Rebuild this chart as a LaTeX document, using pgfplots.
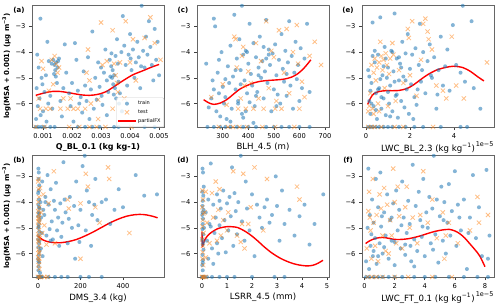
\documentclass[border=0pt]{standalone}
\usepackage{pgfplots}
\pgfplotsset{compat=1.18}
\usepackage{fontspec}
\setmainfont{DejaVu Sans}
\definecolor{mplblue}{RGB}{31,119,180}
\definecolor{mplorange}{RGB}{255,127,14}
\pgfplotsset{
  panel/.style={scale only axis, width=132pt, height=122pt, anchor=south west,
    ymin=-6.91, ymax=-2.17, ytick={-6,-5,-4,-3}, yticklabels={−6,−5,−4,−3},
    tick pos=left, tick align=outside, major tick length=3pt,
    tick style={black!75, line width=0.6pt}, axis line style={black!60, line width=0.6pt},
    tick label style={font=\fontsize{6.7}{7}\selectfont},
    xlabel style={font=\fontsize{8.6}{9}\selectfont, yshift=2pt},
    ylabel style={font=\fontsize{7}{8}\selectfont\bfseries, yshift=-2pt},
    /pgf/number format/assume math mode=true},
  tr/.style={only marks, color=mplblue, mark=*, mark size=2pt, mark options={fill=mplblue, draw=mplblue, line width=0.01pt, fill opacity=0.55, draw opacity=0}},
  te/.style={only marks, color=mplorange, mark=x, mark size=3pt, mark options={draw=mplorange, draw opacity=0.5, line width=0.8pt}},
  fx/.style={red, line width=1.4pt, smooth, no marks}
}
\begin{document}
\begin{tikzpicture}
\useasboundingbox (0,0) rectangle (500pt,306pt);
% (a)
\begin{axis}[panel, at={(32pt,179pt)}, xmin=0.62, xmax=5.17, xtick={1,2,3,4,5},
  xticklabels={0.001,0.002,0.003,0.004,0.005},
  xlabel={\bfseries Q\_BL\_0.1 (kg kg-1)}, ylabel={log(MSA + 0.001) (µg m\textsuperscript{−3})},
  xlabel style={font=\fontsize{8}{9}\selectfont},
  legend style={at={(1,0)}, anchor=south east, font=\fontsize{5}{5.5}\selectfont, draw=black!20, rounded corners=1pt, fill=white, fill opacity=0.8, text opacity=1, inner sep=1.2pt, row sep=-0.5pt},
  legend cell align=left]
\addplot[tr] coordinates {(0.91,-2.70)(0.80,-4.10)(0.85,-4.60)(0.95,-5.00)(0.78,-5.40)(0.88,-5.80)(0.82,-6.10)(1.00,-6.30)(0.76,-6.60)(0.92,-6.45)(1.05,-5.55)(1.10,-4.90)(1.15,-3.60)(1.20,-4.35)(1.30,-4.45)(1.35,-4.30)(1.40,-4.50)(1.42,-4.70)(1.45,-4.40)(1.50,-4.60)(1.38,-4.85)(1.55,-4.25)(1.48,-5.20)(1.25,-5.70)(1.18,-6.00)(1.32,-6.20)(1.60,-5.90)(1.65,-6.50)(1.70,-5.40)(1.75,-3.70)(1.80,-4.80)(1.90,-5.60)(1.95,-6.10)(2.00,-5.20)(2.10,-3.65)(2.15,-4.30)(2.20,-5.50)(2.25,-6.00)(2.30,-5.75)(2.35,-6.35)(2.40,-4.75)(2.45,-5.30)(2.50,-5.90)(2.55,-4.20)(2.60,-6.60)(2.65,-5.45)(2.70,-3.20)(2.75,-6.20)(2.80,-5.00)(2.85,-5.85)(2.90,-4.40)(2.95,-5.35)(3.00,-4.60)(3.02,-5.70)(3.05,-6.05)(3.10,-4.80)(3.15,-3.90)(3.20,-5.10)(3.25,-5.55)(3.30,-4.30)(3.35,-4.55)(3.38,-5.00)(3.40,-4.70)(3.42,-5.25)(3.45,-4.90)(3.48,-5.40)(3.50,-4.15)(3.52,-5.80)(3.55,-3.50)(3.58,-4.45)(3.60,-5.15)(3.62,-6.00)(3.65,-5.60)(3.70,-4.00)(3.75,-2.60)(3.80,-3.75)(3.85,-4.50)(3.90,-5.30)(3.95,-4.10)(4.00,-3.30)(4.05,-4.70)(4.10,-3.90)(4.15,-5.00)(4.20,-4.40)(4.25,-3.60)(4.30,-4.20)(4.35,-5.40)(4.40,-2.20)(4.45,-3.95)(4.50,-4.60)(4.55,-3.40)(4.60,-4.10)(4.65,-2.80)(4.70,-3.80)(4.75,-4.50)(4.80,-5.10)(4.85,-3.10)(4.90,-4.30)(4.95,-3.60)(5.00,-4.90)(3.72,-6.30)(3.20,-6.45)(2.05,-6.70)(1.12,-6.70)(3.32,-4.95)(3.44,-5.65)(3.36,-4.05)(1.44,-4.95)(1.52,-4.35)(0.98,-5.25)(4.02,-4.25)(4.38,-4.55)
(0.75,-6.908)(0.85,-6.908)(0.95,-6.908)(1.05,-6.908)(1.25,-6.908)(1.40,-6.908)(2.20,-6.908)(2.45,-6.908)(2.70,-6.908)(2.95,-6.908)(3.45,-6.908)(3.60,-6.908)(4.50,-6.908)(4.85,-6.908)};
\addlegendentry{train}
\addplot[te] coordinates {(0.95,-4.35)(1.00,-4.65)(1.30,-4.30)(1.40,-4.15)(1.45,-4.45)(1.50,-4.80)(1.35,-5.25)(1.55,-4.60)(1.20,-5.50)(0.85,-5.80)(0.90,-6.20)(1.10,-6.20)(1.25,-6.20)(1.60,-6.20)(1.85,-6.20)(2.05,-6.20)(2.20,-6.20)(2.45,-6.20)(1.70,-5.80)(1.95,-5.80)(2.55,-3.90)(2.50,-4.80)(2.60,-5.10)(2.65,-6.00)(2.90,-5.85)(3.00,-2.85)(3.05,-4.50)(3.20,-4.35)(3.40,-3.15)(3.45,-4.45)(3.50,-4.90)(3.55,-5.20)(3.58,-5.55)(3.65,-4.40)(3.80,-5.80)(3.85,-2.80)(4.00,-4.40)(4.10,-3.50)(4.20,-5.10)(4.50,-3.45)(4.70,-2.65)(4.85,-3.65)(5.05,-4.30)(3.40,-6.20)(2.90,-6.60)
(0.75,-6.908)(1.05,-6.908)(1.90,-6.908)(2.25,-6.908)(2.60,-6.908)(2.85,-6.908)(3.15,-6.908)(4.05,-6.908)};
\addlegendentry{test}
\addplot[fx] coordinates {(0.75,-5.68)(1.0,-5.6)(1.3,-5.53)(1.6,-5.53)(2.0,-5.6)(2.3,-5.66)(2.6,-5.68)(2.9,-5.64)(3.2,-5.52)(3.5,-5.3)(3.8,-5.08)(4.1,-4.88)(4.45,-4.72)(4.75,-4.58)(5.0,-4.48)};
\addlegendentry{partialFX}
\end{axis}
% (c)
\begin{axis}[panel, at={(197pt,179pt)}, xmin=199, xmax=716, xtick={300,400,500,600,700},
  xlabel={BLH\_4.5 (m)}]
\addplot[tr] coordinates {(235,-4.45)(245,-6.15)(255,-5.80)(260,-5.10)(265,-2.70)(270,-3.00)(275,-6.30)(280,-4.80)(285,-5.60)(290,-6.50)(295,-4.00)(300,-5.35)(305,-6.00)(310,-5.75)(315,-6.60)(320,-4.55)(325,-5.20)(330,-3.75)(335,-6.20)(340,-4.95)(345,-2.55)(350,-5.45)(355,-4.25)(360,-5.90)(365,-3.50)(370,-4.70)(375,-6.40)(380,-4.10)(385,-5.10)(390,-3.95)(395,-5.60)(400,-4.45)(405,-2.90)(410,-4.85)(415,-5.30)(420,-3.65)(425,-6.10)(430,-4.20)(435,-5.55)(440,-4.60)(445,-3.40)(450,-5.00)(455,-4.35)(460,-5.80)(465,-4.75)(470,-2.75)(475,-5.20)(480,-3.90)(485,-4.50)(490,-6.30)(495,-4.05)(500,-5.45)(505,-3.70)(510,-4.90)(515,-5.65)(520,-4.30)(525,-6.00)(530,-3.30)(535,-4.65)(540,-5.15)(545,-3.95)(550,-5.70)(555,-4.40)(560,-2.80)(565,-5.30)(570,-4.15)(575,-6.20)(580,-4.80)(585,-3.60)(590,-5.05)(595,-4.50)(600,-5.90)(605,-3.85)(610,-5.40)(620,-4.25)(630,-2.90)(640,-5.55)(330,-6.70)(380,-6.55)(420,-6.75)(360,-6.00)(395,-4.00)(405,-5.95)(375,-2.20)(440,-4.90)(460,-3.80)(480,-4.10)(265,-5.45)(285,-4.30)(310,-5.05)(350,-4.70)(370,-5.25)(390,-6.30)(430,-5.70)(470,-4.25)(510,-6.10)(550,-4.85)
(240,-6.908)(265,-6.908)(290,-6.908)(310,-6.908)(330,-6.908)(355,-6.908)(380,-6.908)(400,-6.908)(430,-6.908)(470,-6.908)(500,-6.908)(530,-6.908)(560,-6.908)(600,-6.908)(640,-6.908)};
\addplot[te] coordinates {(255,-5.75)(300,-5.25)(315,-6.05)(345,-3.40)(350,-3.50)(355,-4.60)(360,-6.20)(370,-5.80)(375,-4.15)(380,-3.80)(385,-5.30)(390,-6.20)(400,-4.75)(410,-5.20)(420,-6.20)(430,-3.65)(440,-5.80)(450,-4.35)(460,-6.20)(470,-2.80)(480,-5.40)(490,-3.95)(500,-4.20)(505,-6.20)(510,-5.90)(520,-3.15)(530,-6.20)(540,-4.80)(550,-3.10)(560,-5.60)(575,-4.00)(590,-2.95)(595,-4.45)(600,-6.20)(610,-5.15)(620,-5.75)(640,-4.15)(660,-3.60)(685,-4.50)
(285,-6.908)(320,-6.908)(340,-6.908)(365,-6.908)(395,-6.908)(455,-6.908)(505,-6.908)(580,-6.908)};
\addplot[fx] coordinates {(225,-5.85)(245,-5.97)(265,-6.03)(290,-5.98)(315,-5.85)(340,-5.65)(365,-5.45)(390,-5.32)(420,-5.2)(450,-5.13)(480,-5.1)(510,-5.08)(540,-5.05)(570,-4.97)(595,-4.83)(620,-4.6)(645,-4.3)};
\end{axis}
% (e)
\begin{axis}[panel, at={(362pt,179pt)}, xmin=-0.18, xmax=5.82, xtick={0,2,4},
  xlabel={LWC\_BL\_2.3 (kg kg\textsuperscript{−1})}]
\addplot[tr] coordinates {(0.10,-4.70)(0.15,-5.90)(0.20,-6.40)(0.25,-5.20)(0.30,-2.85)(0.35,-6.10)(0.40,-4.40)(0.45,-5.60)(0.50,-6.60)(0.55,-4.10)(0.60,-5.40)(0.65,-2.65)(0.70,-6.20)(0.75,-4.90)(0.80,-5.80)(0.85,-3.80)(0.90,-6.45)(0.95,-5.00)(1.00,-4.60)(1.05,-6.00)(1.10,-5.30)(1.15,-3.95)(1.20,-6.30)(1.25,-4.75)(1.30,-2.50)(1.35,-5.70)(1.40,-4.25)(1.45,-6.55)(1.50,-5.10)(1.55,-4.45)(1.60,-5.90)(1.65,-3.60)(1.70,-4.95)(1.75,-6.15)(1.80,-4.05)(1.85,-5.45)(1.90,-3.30)(1.95,-6.40)(2.00,-4.65)(2.05,-5.25)(2.10,-4.10)(2.20,-5.75)(2.25,-3.85)(2.30,-6.05)(2.40,-4.50)(2.45,-2.90)(2.50,-5.15)(2.60,-4.00)(2.70,-5.60)(2.80,-4.35)(2.90,-3.70)(3.00,-5.00)(3.10,-4.20)(3.20,-6.20)(3.30,-4.70)(3.40,-3.40)(3.50,-5.30)(3.60,-4.55)(3.70,-3.90)(3.80,-5.50)(3.95,-2.95)(4.10,-4.50)(4.30,-4.80)(4.40,-2.20)(4.50,-5.15)(4.80,-2.80)(4.90,-5.40)(5.20,-6.20)(0.30,-4.15)(0.55,-5.45)(0.80,-4.55)(1.00,-5.55)(1.20,-4.00)(0.45,-6.25)(0.65,-5.05)(0.90,-4.25)(1.10,-6.50)(1.40,-5.65)(1.60,-4.60)(1.80,-5.10)(2.15,-6.60)(2.55,-4.70)(0.20,-5.50)(0.40,-3.95)(0.25,-6.00)(0.70,-5.75)(1.30,-5.15)(1.50,-4.20)(2.35,-5.45)(2.95,-4.90)(3.25,-5.65)(0.15,-4.95)
(0.1,-6.908)(0.2,-6.908)(0.3,-6.908)(0.45,-6.908)(0.6,-6.908)(0.8,-6.908)(1.0,-6.908)(1.2,-6.908)(1.5,-6.908)(1.8,-6.908)(2.2,-6.908)(2.6,-6.908)(3.4,-6.908)(4.3,-6.908)(4.6,-6.908)};
\addplot[te] coordinates {(0.10,-6.30)(0.15,-6.10)(0.20,-5.60)(0.25,-4.50)(0.30,-6.20)(0.35,-4.80)(0.40,-4.25)(0.45,-5.10)(0.50,-4.60)(0.55,-6.00)(0.60,-4.40)(0.65,-3.60)(0.70,-4.15)(0.75,-4.70)(0.80,-4.30)(0.85,-5.40)(0.90,-4.05)(0.95,-4.50)(1.00,-6.10)(1.05,-4.85)(1.10,-4.25)(1.20,-3.65)(1.25,-4.10)(1.35,-5.90)(1.50,-4.70)(1.70,-5.20)(1.90,-3.10)(1.95,-3.45)(2.00,-4.90)(2.10,-2.80)(2.30,-5.70)(2.50,-4.30)(2.60,-2.90)(2.70,-2.70)(2.80,-3.20)(2.85,-3.50)(3.00,-3.90)(3.20,-5.30)(3.50,-5.50)(3.65,-5.80)(3.90,-3.40)(4.10,-5.30)(4.45,-5.80)(5.50,-4.40)(0.35,-6.40)(0.60,-6.30)
(0.1,-6.908)(0.25,-6.908)(0.4,-6.908)(0.7,-6.908)(1.3,-6.908)(1.7,-6.908)(3.05,-6.908)};
\addplot[fx] coordinates {(0.08,-6.03)(0.2,-5.8)(0.35,-5.62)(0.6,-5.53)(0.9,-5.5)(1.2,-5.5)(1.5,-5.49)(1.85,-5.42)(2.15,-5.28)(2.45,-5.09)(2.8,-4.88)(3.2,-4.7)(3.6,-4.6)(3.97,-4.55)(4.4,-4.6)(4.75,-4.75)(5.05,-4.94)(5.36,-5.12)};
\end{axis}
% (b)
\begin{axis}[panel, at={(32pt,29pt)}, xmin=-28, xmax=593, xtick={0,200,400},
  xlabel={DMS\_3.4 (kg)}, ylabel={log(MSA + 0.001) (µg m\textsuperscript{−3})}]
\addplot[tr] coordinates {(2,-2.70)(4,-2.85)(3,-3.10)(6,-3.35)(1,-3.65)(5,-3.90)(2,-4.10)(8,-4.25)(3,-4.40)(1,-4.55)(7,-4.70)(4,-4.85)(2,-5.00)(6,-5.15)(3,-5.30)(1,-5.45)(5,-5.60)(2,-5.75)(8,-5.90)(4,-6.05)(1,-6.20)(6,-6.35)(3,-6.50)(2,-6.65)(12,-4.00)(15,-4.60)(18,-5.20)(14,-5.80)(20,-3.20)(22,-6.10)(25,-4.30)(10,-6.75)(5,-4.20)(3,-4.95)(7,-5.50)(2,-6.30)(4,-3.55)(6,-4.45)
(30,-4.50)(35,-3.80)(40,-5.30)(45,-2.95)(50,-4.10)(55,-5.05)(60,-3.50)(65,-4.75)(70,-5.45)(80,-4.30)(85,-3.25)(90,-5.10)(95,-4.60)(100,-5.70)(105,-4.05)(110,-5.35)(120,-2.45)(125,-3.90)(130,-4.40)(140,-5.60)(145,-4.65)(150,-3.80)(160,-5.00)(170,-4.15)(175,-6.20)(180,-3.20)(190,-4.90)(195,-5.55)(200,-4.30)(210,-2.60)(220,-2.20)(225,-5.10)(230,-3.55)(240,-4.00)(250,-5.70)(255,-4.50)(265,-4.10)(270,-3.10)(280,-4.70)(300,-4.00)(320,-3.90)(340,-4.85)(360,-4.30)(380,-3.50)(400,-4.20)(460,-2.95)(500,-3.75)(560,-3.70)(60,-5.50)(115,-4.80)(35,-4.00)(75,-3.95)
(0,-6.908)(3,-6.908)(6,-6.908)(10,-6.908)(15,-6.908)(20,-6.908)(50,-6.908)(80,-6.908)(110,-6.908)(140,-6.908)(200,-6.908)(240,-6.908)(300,-6.908)};
\addplot[te] coordinates {(1,-3.20)(3,-3.50)(5,-3.80)(2,-4.00)(6,-4.20)(1,-4.35)(4,-4.50)(3,-4.65)(7,-4.80)(2,-4.95)(5,-5.10)(1,-5.25)(8,-5.40)(3,-5.55)(6,-5.70)(2,-5.85)(4,-6.00)(1,-6.15)(5,-6.30)(3,-6.45)(7,-6.60)(2,-4.75)(4,-5.35)(6,-5.95)(10,-3.45)(15,-4.40)(20,-5.20)(25,-3.70)(30,-4.90)(40,-5.65)(50,-4.05)(75,-2.80)(80,-5.60)(140,-3.90)(145,-4.25)(200,-4.05)(200,-6.20)(225,-2.90)(235,-3.40)(270,-4.20)(290,-4.80)(330,-2.65)(335,-3.10)(430,-5.20)(3,-3.10)(5,-4.60)(2,-5.50)(6,-6.20)
(0,-6.908)(5,-6.908)(12,-6.908)(30,-6.908)(45,-6.908)};
\addplot[fx] coordinates {(0,-5.32)(26,-5.48)(60,-5.56)(104,-5.58)(145,-5.53)(182,-5.45)(220,-5.32)(260,-5.16)(300,-4.98)(338,-4.81)(378,-4.66)(416,-4.55)(455,-4.49)(493,-4.48)(530,-4.53)(563,-4.61)};
\end{axis}
% (d)
\begin{axis}[panel, at={(197pt,29pt)}, xmin=-0.2, xmax=5.08, xtick={0,1,2,3,4,5},
  xlabel={LSRR\_4.5 (mm)}]
\addplot[tr] coordinates {(0.02,-2.70)(0.04,-2.85)(0.01,-3.60)(0.05,-3.75)(0.03,-3.95)(0.02,-4.15)(0.06,-4.30)(0.01,-4.50)(0.04,-4.65)(0.03,-4.85)(0.02,-5.05)(0.05,-5.25)(0.01,-5.45)(0.03,-5.65)(0.06,-5.85)(0.02,-6.05)(0.04,-6.25)(0.01,-6.45)(0.03,-6.65)(0.08,-5.00)(0.07,-3.40)(0.02,-4.40)(0.05,-5.55)(0.03,-6.35)
(0.15,-4.40)(0.20,-5.50)(0.25,-3.90)(0.30,-4.85)(0.35,-2.50)(0.40,-5.80)(0.45,-4.10)(0.50,-5.20)(0.55,-4.60)(0.60,-3.70)(0.65,-6.00)(0.70,-4.90)(0.75,-4.25)(0.80,-5.40)(0.85,-3.55)(0.90,-4.70)(0.95,-5.95)(1.00,-4.05)(1.05,-5.10)(1.10,-3.80)(1.15,-4.55)(1.20,-2.65)(1.25,-5.70)(1.30,-3.65)(1.35,-4.35)(1.40,-5.25)(1.45,-4.00)(1.55,-2.20)(1.60,-4.75)(1.70,-5.50)(1.75,-3.20)(1.80,-4.25)(1.90,-5.10)(2.00,-3.70)(2.10,-6.10)(2.20,-4.10)(2.30,-4.60)(2.40,-5.00)(2.50,-4.20)(2.60,-3.90)(2.70,-4.80)(2.80,-4.50)(2.95,-3.00)(3.00,-4.15)(3.10,-5.50)(3.20,-3.55)(3.30,-4.85)(3.50,-4.30)(3.70,-5.30)(3.90,-4.55)(4.10,-4.10)(4.30,-5.65)(4.50,-4.85)(4.85,-3.70)(0.25,-6.20)(0.45,-6.40)(0.60,-5.60)(0.35,-4.95)(0.70,-3.95)
(0.0,-6.908)(0.02,-6.908)(0.05,-6.908)(0.1,-6.908)(0.2,-6.908)(0.4,-6.908)(0.7,-6.908)(1.0,-6.908)(1.3,-6.908)(2.0,-6.908)(2.9,-6.908)(3.3,-6.908)};
\addplot[te] coordinates {(0.02,-3.55)(0.04,-3.90)(0.01,-4.20)(0.05,-4.45)(0.03,-4.70)(0.02,-4.95)(0.06,-5.20)(0.01,-5.45)(0.04,-5.70)(0.03,-5.95)(0.02,-6.20)(0.05,-6.45)(0.10,-4.40)(0.15,-3.60)(0.20,-4.80)(0.30,-5.60)(0.40,-3.65)(0.45,-4.60)(0.55,-3.20)(0.60,-5.50)(0.65,-4.30)(0.70,-3.50)(0.75,-5.30)(0.85,-4.70)(1.00,-5.10)(1.05,-4.40)(1.25,-2.80)(1.40,-5.30)(1.55,-5.55)(1.60,-4.85)(1.65,-2.90)(1.70,-5.80)(1.85,-4.85)(1.95,-4.20)(2.10,-2.65)(2.45,-5.10)(2.60,-3.10)(3.80,-3.40)(3.90,-3.90)(0.15,-6.15)
(0.0,-6.908)(0.03,-6.908)(0.08,-6.908)(0.15,-6.908)};
\addplot[fx] coordinates {(0,-5.15)(0.015,-5.72)(0.05,-5.62)(0.12,-5.45)(0.24,-5.29)(0.4,-5.16)(0.63,-5.03)(0.83,-4.98)(1.03,-4.95)(1.23,-4.96)(1.43,-4.99)(1.7,-5.12)(1.96,-5.29)(2.22,-5.5)(2.49,-5.74)(2.8,-5.98)(3.15,-6.19)(3.5,-6.34)(3.81,-6.43)(4.2,-6.48)(4.45,-6.45)(4.65,-6.37)(4.84,-6.26)};
\end{axis}
% (f)
\begin{axis}[panel, at={(362pt,29pt)}, xmin=-0.17, xmax=8.6, xtick={0,2,4,6,8},
  xlabel={LWC\_FT\_0.1 (kg kg\textsuperscript{−1})}]
\addplot[tr] coordinates {(0.10,-6.30)(0.20,-5.00)(0.25,-2.70)(0.30,-6.60)(0.35,-4.50)(0.40,-5.70)(0.50,-3.90)(0.55,-6.10)(0.60,-4.80)(0.70,-5.40)(0.75,-3.10)(0.80,-6.40)(0.90,-4.20)(1.00,-5.60)(1.05,-2.85)(1.10,-4.95)(1.20,-6.00)(1.30,-4.40)(1.40,-5.30)(1.50,-3.70)(1.60,-6.20)(1.70,-4.70)(1.80,-5.50)(1.90,-4.05)(2.00,-6.45)(2.10,-3.55)(2.20,-5.10)(2.30,-4.30)(2.40,-5.80)(2.50,-3.20)(2.60,-4.60)(2.70,-6.05)(2.80,-5.20)(2.90,-3.95)(3.00,-4.85)(3.10,-6.30)(3.20,-2.55)(3.30,-5.45)(3.40,-4.15)(3.50,-5.90)(3.60,-3.60)(3.70,-4.70)(3.80,-5.35)(3.90,-3.10)(4.00,-6.10)(4.10,-4.40)(4.20,-5.00)(4.30,-3.80)(4.40,-5.60)(4.50,-4.25)(4.60,-2.20)(4.70,-5.25)(4.80,-3.90)(4.90,-6.35)(5.00,-4.55)(5.10,-3.40)(5.20,-5.50)(5.30,-4.00)(5.40,-6.00)(5.50,-4.80)(5.60,-3.30)(5.70,-5.30)(5.80,-4.35)(6.00,-2.80)(6.10,-5.70)(6.20,-4.10)(6.40,-5.10)(6.60,-3.90)(6.80,-6.60)(7.00,-4.60)(7.20,-2.95)(7.40,-5.40)(7.60,-4.20)(7.80,-6.10)(8.10,-2.75)(8.20,-6.20)(8.30,-5.30)(0.60,-5.90)(1.30,-5.75)(2.00,-5.55)(2.70,-5.65)(1.80,-4.60)(3.30,-6.50)(0.90,-6.10)(0.45,-5.25)(1.15,-4.55)(2.45,-4.90)(3.05,-5.70)(3.85,-4.95)(4.55,-5.85)(5.25,-4.70)(6.30,-4.60)(6.90,-5.20)
(0.1,-6.908)(0.3,-6.908)(0.6,-6.908)(0.9,-6.908)(1.2,-6.908)(1.6,-6.908)(2.0,-6.908)(2.5,-6.908)(3.3,-6.908)(4.0,-6.908)(4.7,-6.908)(5.6,-6.908)(6.6,-6.908)(7.5,-6.908)(8.2,-6.908)};
\addplot[te] coordinates {(0.15,-5.80)(0.25,-4.35)(0.30,-3.60)(0.35,-4.60)(0.40,-5.10)(0.45,-6.20)(0.55,-3.10)(0.60,-4.80)(0.70,-5.70)(0.80,-4.50)(0.90,-6.30)(1.00,-3.70)(1.10,-4.25)(1.20,-5.30)(1.30,-3.45)(1.40,-5.90)(1.50,-4.10)(1.60,-6.00)(1.70,-4.70)(1.80,-5.30)(1.90,-2.70)(2.00,-4.00)(2.10,-5.60)(2.20,-3.40)(2.30,-4.55)(2.50,-5.80)(2.70,-4.20)(2.80,-3.40)(3.00,-5.00)(3.20,-4.60)(3.50,-5.60)(3.70,-4.50)(3.90,-2.80)(4.20,-4.80)(4.50,-3.90)(4.80,-5.40)(5.20,-4.40)(5.30,-6.20)(5.40,-5.30)(5.60,-4.80)(6.20,-5.60)(7.00,-5.10)(7.50,-3.80)(7.60,-4.80)(8.20,-4.50)
(0.2,-6.908)(0.5,-6.908)(0.8,-6.908)(1.2,-6.908)(2.0,-6.908)(2.9,-6.908)(4.5,-6.908)(5.8,-6.908)};
\addplot[fx] coordinates {(0.07,-5.61)(0.35,-5.5)(0.68,-5.42)(1.0,-5.38)(1.35,-5.38)(1.7,-5.42)(2.03,-5.45)(2.45,-5.45)(2.93,-5.42)(3.4,-5.36)(3.83,-5.29)(4.3,-5.2)(4.73,-5.13)(5.2,-5.08)(5.63,-5.06)(6.0,-5.12)(6.31,-5.22)(6.65,-5.39)(6.98,-5.61)(7.35,-5.86)(7.66,-6.1)(8.0,-6.51)};
\end{axis}
% panel labels and offset texts
\node[font=\fontsize{7}{8}\selectfont\bfseries] at (19pt,296pt) {(a)};
\node[font=\fontsize{7}{8}\selectfont\bfseries] at (183pt,296pt) {(c)};
\node[font=\fontsize{7}{8}\selectfont\bfseries] at (348pt,296pt) {(e)};
\node[font=\fontsize{7}{8}\selectfont\bfseries] at (19pt,146pt) {(b)};
\node[font=\fontsize{7}{8}\selectfont\bfseries] at (183pt,146pt) {(d)};
\node[font=\fontsize{7}{8}\selectfont\bfseries] at (348pt,146pt) {(f)};
\node[font=\fontsize{6.5}{7}\selectfont, anchor=east] at (497pt,162pt) {1e−5};
\node[font=\fontsize{6.5}{7}\selectfont, anchor=east] at (497pt,12pt) {1e−5};
\end{tikzpicture}
\end{document}
